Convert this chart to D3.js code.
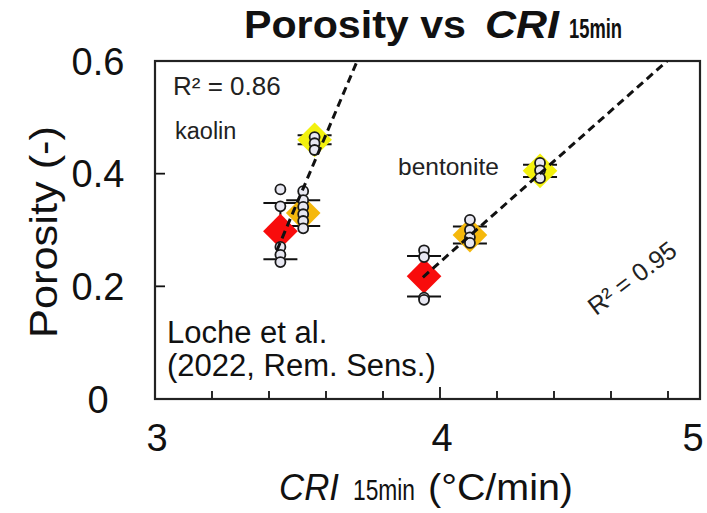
<!DOCTYPE html>
<html>
<head>
<meta charset="utf-8">
<script src="https://cdn.jsdelivr.net/npm/d3@7"></script>
<style>
  html, body { margin: 0; padding: 0; background: #fff; }
  svg { display: block; font-family: Arial, "Liberation Sans", sans-serif; }
</style>
</head>
<body>
<svg id="chart" width="707" height="513"></svg>
<script>
// ---- data ----
const xTickValues = [3, 4, 5];
const xTickLabels = ["3", "4", "5"];
const xMinorTicks = [3.2, 3.4, 3.6, 3.8, 4.2, 4.4, 4.6, 4.8];
const yTickValues = [0, 0.2, 0.4, 0.6];
const yTickLabels = ["0", "0.2", "0.4", "0.6"];

const levelColors = ["#f80c0c", "#f5b80c", "#f3f10e"];

// kaolin: mean CRI, mean porosity, sd and individual samples
const kaolinX = [3.44, 3.52, 3.56];
const kaolinMean = [0.298, 0.330, 0.460];
const kaolinSd = [0.050, 0.023, 0.008];
const kaolinSamples = [
  [0.372, 0.342, 0.270, 0.256, 0.243],
  [0.369, 0.353, 0.341, 0.328, 0.316, 0.303],
  [0.465, 0.454, 0.442]
];
const kaolinFit = [1.194, -3.829];   // slope, intercept
const kaolinFitStart = 3.428;

// bentonite
const bentoniteX = [3.944, 4.105, 4.351];
const bentoniteMean = [0.218, 0.291, 0.405];
const bentoniteSd = [0.036, 0.015, 0.011];
const bentoniteSamples = [
  [0.264, 0.252, 0.180, 0.176],
  [0.318, 0.300, 0.287, 0.277],
  [0.419, 0.406, 0.392]
];
const bentoniteFit = [0.448, -1.549];
const bentoniteFitStart = 3.94;

// ---- layout ----
const svg = d3.select("#chart");
const pLeft = 155, pRight = 700, pTop = 61, pBottom = 399;
const x = d3.scaleLinear().domain([3, 5]).range([pLeft, 725]);
const y = d3.scaleLinear().domain([0, 0.6]).range([pBottom, pTop]);
const xMax = x.invert(pRight);

// clip region for the plot area
svg.append("defs").append("clipPath").attr("id", "plotClip")
  .append("rect").attr("x", pLeft).attr("y", pTop)
  .attr("width", pRight - pLeft).attr("height", pBottom - pTop);

// ticks (inward)
const axisG = svg.append("g").attr("stroke", "#111").attr("stroke-width", 1.8);
axisG.selectAll("line.minor").data(xMinorTicks).join("line")
  .attr("x1", d => x(d)).attr("x2", d => x(d))
  .attr("y1", pBottom).attr("y2", pBottom - 8);
axisG.selectAll("line.major").data([4]).join("line")
  .attr("x1", d => x(d)).attr("x2", d => x(d))
  .attr("y1", pBottom).attr("y2", pBottom - 12);
axisG.selectAll("line.ytick").data([0.2, 0.4]).join("line")
  .attr("x1", pLeft).attr("x2", pLeft + 10)
  .attr("y1", d => y(d)).attr("y2", d => y(d));

// frame
svg.append("rect").attr("x", pLeft).attr("y", pTop)
  .attr("width", pRight - pLeft).attr("height", pBottom - pTop)
  .attr("fill", "none").attr("stroke", "#222").attr("stroke-width", 2.2);

// tick labels
svg.selectAll("text.xt").data(xTickValues).join("text")
  .attr("x", d => Math.min(x(d) + 2, pRight - 7))
  .attr("y", 451)
  .attr("text-anchor", "middle")
  .attr("font-size", 38).attr("fill", "#111")
  .text((d, i) => xTickLabels[i]);
svg.selectAll("text.yt").data(yTickValues).join("text")
  .attr("x", 98)
  .attr("y", d => y(d))
  .attr("dy", "0.36em")
  .attr("text-anchor", "middle")
  .attr("font-size", 38).attr("fill", "#111")
  .text((d, i) => yTickLabels[i]);

// group drawing
const plot = svg.append("g").attr("clip-path", "url(#plotClip)");
const diamond = d3.symbol(d3.symbolSquare, 600);

function drawGroup(xs, means, sds, samples) {
  const g = plot.append("g");
  // error bars
  xs.forEach((xv, i) => {
    const eb = g.append("g").attr("stroke", "#111").attr("stroke-width", 2);
    eb.append("line").attr("x1", x(xv)).attr("x2", x(xv))
      .attr("y1", y(means[i] + sds[i])).attr("y2", y(means[i] - sds[i]));
    [means[i] + sds[i], means[i] - sds[i]].forEach(v => {
      eb.append("line").attr("x1", x(xv) - 17).attr("x2", x(xv) + 17)
        .attr("y1", y(v)).attr("y2", y(v));
    });
  });
  // mean diamonds
  g.selectAll("path.mean").data(xs).join("path")
    .attr("d", diamond)
    .attr("transform", (d, i) => `translate(${x(d)},${y(means[i])}) rotate(45)`)
    .attr("fill", (d, i) => levelColors[i]);
  // individual samples
  samples.forEach((arr, i) => {
    g.selectAll(null).data(arr).join("circle")
      .attr("cx", x(xs[i])).attr("cy", d => y(d)).attr("r", 5)
      .attr("fill", "#e8e8f2").attr("stroke", "#1a1a1a").attr("stroke-width", 1.8);
  });
}

drawGroup(kaolinX, kaolinMean, kaolinSd, kaolinSamples);
drawGroup(bentoniteX, bentoniteMean, bentoniteSd, bentoniteSamples);

// regression lines
function drawFit(fit, x0) {
  const xEnd = Math.min(xMax, (0.6 - fit[1]) / fit[0]);
  plot.append("line")
    .attr("x1", x(x0)).attr("y1", y(fit[0] * x0 + fit[1]))
    .attr("x2", x(xEnd)).attr("y2", y(fit[0] * xEnd + fit[1]))
    .attr("stroke", "#111").attr("stroke-width", 3)
    .attr("stroke-dasharray", "8,5");
}
drawFit(kaolinFit, kaolinFitStart);
drawFit(bentoniteFit, bentoniteFitStart);

// annotations
svg.append("text").attr("x", 173).attr("y", 95).attr("font-size", 26).attr("fill", "#222")
  .text("R² = 0.86");
svg.append("text").attr("x", 175).attr("y", 139).attr("font-size", 23.5).attr("fill", "#222")
  .text("kaolin");
svg.append("text").attr("x", 398).attr("y", 175).attr("font-size", 24.5).attr("fill", "#222")
  .text("bentonite");
svg.append("text").attr("transform", "translate(632,278) rotate(-37)")
  .attr("text-anchor", "middle").attr("dy", "0.35em")
  .attr("font-size", 25).attr("fill", "#222")
  .text("R² = 0.95");
svg.append("text").attr("x", 167).attr("y", 343).attr("font-size", 31).attr("fill", "#111")
  .text("Loche et al.");
svg.append("text").attr("x", 167).attr("y", 376).attr("font-size", 31).attr("fill", "#111")
  .text("(2022, Rem. Sens.)");

// title
const title = svg.append("g").attr("fill", "#111").attr("font-weight", "bold");
title.append("text").attr("x", 244).attr("y", 38).attr("font-size", 38)
  .attr("textLength", 222).attr("lengthAdjust", "spacingAndGlyphs").text("Porosity vs");
title.append("text").attr("x", 485).attr("y", 38).attr("font-size", 38).attr("font-style", "italic")
  .attr("textLength", 74).attr("lengthAdjust", "spacingAndGlyphs").text("CRI");
title.append("text").attr("x", 569).attr("y", 38).attr("font-size", 28)
  .attr("textLength", 53).attr("lengthAdjust", "spacingAndGlyphs").text("15min");

// axis titles
const xl = svg.append("g").attr("fill", "#111");
xl.append("text").attr("x", 279).attr("y", 500).attr("font-size", 37).attr("font-style", "italic")
  .attr("textLength", 60).attr("lengthAdjust", "spacingAndGlyphs").text("CRI");
xl.append("text").attr("x", 353).attr("y", 500).attr("font-size", 29)
  .attr("textLength", 62).attr("lengthAdjust", "spacingAndGlyphs").text("15min");
xl.append("text").attr("x", 428).attr("y", 500).attr("font-size", 37)
  .attr("textLength", 145).attr("lengthAdjust", "spacingAndGlyphs").text("(°C/min)");

svg.append("text").attr("transform", "translate(57,232) rotate(-90)")
  .attr("text-anchor", "middle").attr("font-size", 38).attr("fill", "#111")
  .attr("textLength", 212).attr("lengthAdjust", "spacingAndGlyphs")
  .text("Porosity (-)");
</script>
</body>
</html>
